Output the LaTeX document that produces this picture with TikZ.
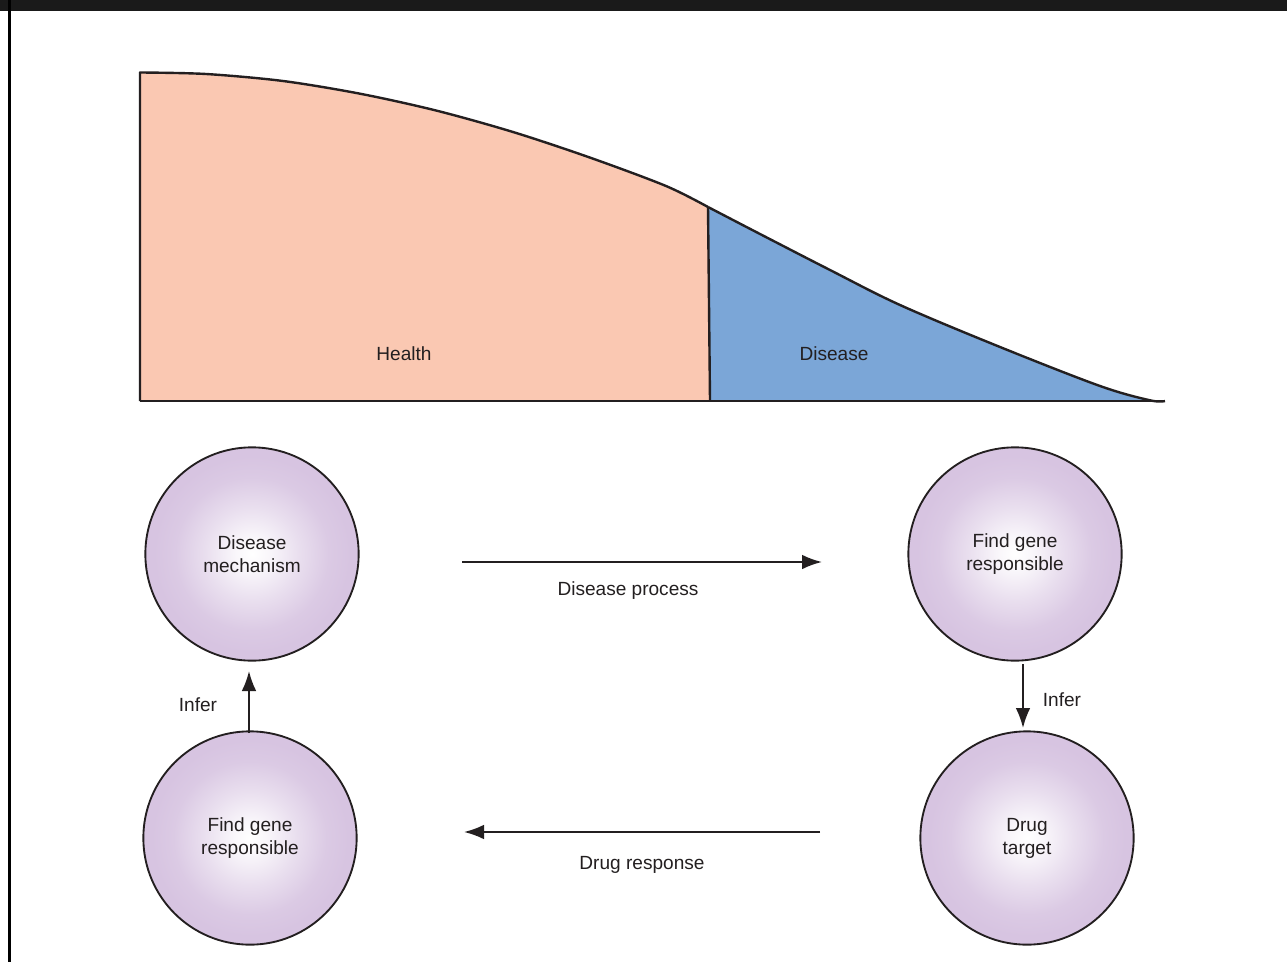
\documentclass[tikz,border=0pt]{standalone}
\usepackage{fontspec}
\setmainfont{Liberation Sans}
\usetikzlibrary{arrows.meta,shapes.geometric}
\definecolor{salmon}{RGB}{250,200,178}
\definecolor{bluefill}{RGB}{123,166,215}
\definecolor{lav}{RGB}{215,196,225}
\definecolor{ink}{RGB}{35,31,32}
\definecolor{barc}{RGB}{26,26,26}
\pgfdeclareradialshading{lavshade}{\pgfpoint{0bp}{0bp}}{color(0bp)=(white); color(4bp)=(white!85!lav); color(11bp)=(white!45!lav); color(18bp)=(white!10!lav); color(23bp)=(lav); color(50bp)=(lav)}
\tikzset{
  txt/.style={font=\fontsize{14.3}{17.3}\selectfont, text=ink, align=center, inner sep=0pt},
  bubble/.style={circle, draw=ink, line width=1.4pt, shading=lavshade, minimum size=160pt, inner sep=0pt, font=\fontsize{14.3}{17.3}\selectfont, text=ink, align=center},
  arr/.style={draw=ink, line width=1.4pt, -{Latex[length=15pt,width=11pt]}},
  curve/.style={draw=ink, line width=1.8pt, line join=round},
}
\begin{document}
\begin{tikzpicture}[x=0.75pt,y=-0.75pt]
\useasboundingbox (0,0) rectangle (1287,962);
% frame
\fill[barc] (0,0) rectangle (1287,11);
\fill[black] (8,0) rectangle (10.5,962);
% health region
\fill[salmon] (140,401) -- (140,72.5) -- plot[smooth] coordinates {(140,72.5) (206,74) (283,81) (360,93.7) (436,110.5) (513,132) (590,157.6) (666,186) (708,207)} -- (710,401) -- cycle;
% disease region
\fill[bluefill] (710,401) -- (708,207) -- plot[smooth, tension=0.55] coordinates {(708,207) (760,234) (830,270) (900,305) (1000,347) (1100,386) (1150,400.3) (1165,401)} -- cycle;
% outlines
\draw[curve] (140,401) -- (140,72.5) -- plot[smooth] coordinates {(140,72.5) (206,74) (283,81) (360,93.7) (436,110.5) (513,132) (590,157.6) (666,186) (708,207)};
\draw[curve] plot[smooth, tension=0.55] coordinates {(708,207) (760,234) (830,270) (900,305) (1000,347) (1100,386) (1150,400.3) (1165,401)};
\draw[curve] (708,207) -- (710,401);
\draw[curve] (140,401) -- (1165,401);
\node[txt] (health) at (404,354) {Health};
\node[txt] (disease) at (834,354) {Disease};
% bubbles
\node[bubble] (dm) at (252,554) {Disease\\mechanism};
\node[bubble] (fg1) at (1015,554) {Find gene\\responsible};
\node[bubble] (fg2) at (250,838) {Find gene\\responsible};
\node[bubble] (dt) at (1027,838) {Drug\\target};
% connector end points
\coordinate (a1) at (462,562);
\coordinate (a2) at (822,562);
\coordinate (b1) at (820,832);
\coordinate (b2) at (464,832);
\coordinate (c1) at (249,733);
\coordinate (c2) at (249,671);
\coordinate (d1) at (1023,664);
\coordinate (d2) at (1023,728);
\draw[arr] (a1) -- (a2);
\draw[arr] (b1) -- (b2);
\draw[arr] (c1) -- (c2);
\draw[arr] (d1) -- (d2);
\node[txt] (lp) at (628,591) {Disease process};
\node[txt] (lr) at (642,865) {Drug response};
\node[txt] (li1) at (198,705) {Infer};
\node[txt] (li2) at (1062,700) {Infer};
\end{tikzpicture}
\end{document}
